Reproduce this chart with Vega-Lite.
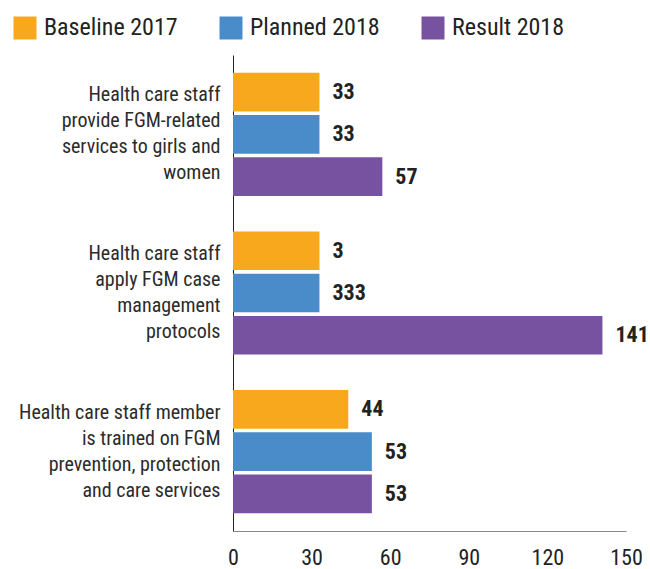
{
  "$schema": "https://vega.github.io/schema/vega-lite/v6.json",
  "width": 393,
  "height": 476,
  "autosize": "none",
  "padding": {"left": 233, "top": 55, "right": 24, "bottom": 38},
  "config": {
    "view": {"stroke": null},
    "font": "Roboto Condensed, Liberation Sans Narrow, DejaVu Sans Condensed, sans-serif"
  },
  "data": {
    "values": [
      {"group": "Health care staff\nprovide FGM-related\nservices to girls and\nwomen", "series": "Baseline 2017", "value": 33, "label": "33"},
      {"group": "Health care staff\nprovide FGM-related\nservices to girls and\nwomen", "series": "Planned 2018", "value": 33, "label": "33"},
      {"group": "Health care staff\nprovide FGM-related\nservices to girls and\nwomen", "series": "Result 2018", "value": 57, "label": "57"},
      {"group": "Health care staff\napply FGM case\nmanagement\nprotocols", "series": "Baseline 2017", "value": 33, "label": "3"},
      {"group": "Health care staff\napply FGM case\nmanagement\nprotocols", "series": "Planned 2018", "value": 33, "label": "333"},
      {"group": "Health care staff\napply FGM case\nmanagement\nprotocols", "series": "Result 2018", "value": 141, "label": "141"},
      {"group": "Health care staff member\nis trained on FGM\nprevention, protection\nand care services", "series": "Baseline 2017", "value": 44, "label": "44"},
      {"group": "Health care staff member\nis trained on FGM\nprevention, protection\nand care services", "series": "Planned 2018", "value": 53, "label": "53"},
      {"group": "Health care staff member\nis trained on FGM\nprevention, protection\nand care services", "series": "Result 2018", "value": 53, "label": "53"}
    ]
  },
  "encoding": {
    "y": {
      "field": "group",
      "type": "nominal",
      "sort": null,
      "scale": {"paddingInner": 0, "paddingOuter": 0},
      "axis": {
        "title": null,
        "ticks": false,
        "domainColor": "#222222",
        "domainWidth": 1,
        "labelExpr": "split(datum.value, '\\n')",
        "labelFontSize": 20,
        "labelLineHeight": 26,
        "labelPadding": 13,
        "labelOffset": -39,
        "labelLimit": 400,
        "labelColor": "#2b2b2b",
        "labelAlign": "right",
        "labelBaseline": "middle"
      }
    },
    "yOffset": {
      "field": "series",
      "type": "nominal",
      "sort": ["Baseline 2017", "Planned 2018", "Result 2018"],
      "scale": {"paddingInner": 0.085, "paddingOuter": 0.42}
    },
    "x": {
      "field": "value",
      "type": "quantitative",
      "scale": {"domain": [0, 150], "nice": false},
      "axis": {
        "title": null,
        "grid": false,
        "ticks": false,
        "values": [0, 30, 60, 90, 120, 150],
        "domainColor": "#8a8a8a",
        "labelFontSize": 22,
        "labelColor": "#222222",
        "labelPadding": 16,
        "labelFlush": false
      }
    }
  },
  "layer": [
    {
      "mark": {"type": "bar"},
      "encoding": {
        "color": {
          "field": "series",
          "type": "nominal",
          "sort": ["Baseline 2017", "Planned 2018", "Result 2018"],
          "scale": {
            "domain": ["Baseline 2017", "Planned 2018", "Result 2018"],
            "range": ["#F7A81D", "#4A8CC9", "#7652A1"]
          },
          "legend": {
            "title": null,
            "orient": "none",
            "direction": "horizontal",
            "legendX": -220,
            "legendY": -39,
            "symbolType": "square",
            "symbolSize": 529,
            "symbolStrokeWidth": 0,
            "labelFontSize": 24,
            "labelColor": "#222222",
            "labelOffset": 7,
            "columnPadding": 41,
            "labelLimit": 300
          }
        }
      }
    },
    {
      "mark": {
        "type": "text",
        "align": "left",
        "baseline": "middle",
        "dx": 13,
        "fontSize": 22,
        "fontWeight": "bold",
        "color": "#222222"
      },
      "encoding": {
        "text": {"field": "label"}
      }
    }
  ]
}
